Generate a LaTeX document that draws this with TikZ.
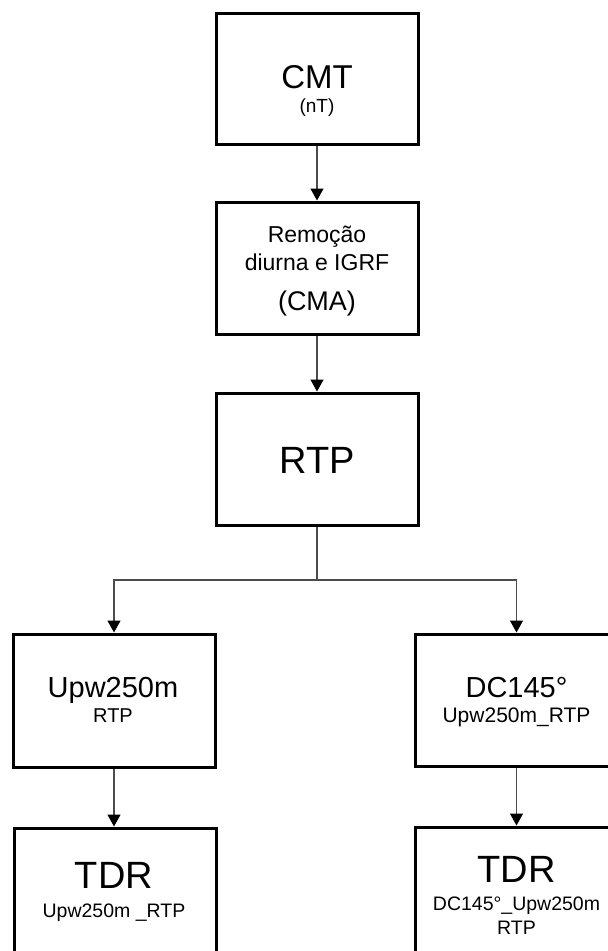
\documentclass[tikz,border=0pt]{standalone}
\usepackage{fontspec}
\setmainfont{Liberation Sans}
\usetikzlibrary{arrows.meta}
\newcommand\txtsize[1]{\fontsize{#1}{#1}\selectfont}
\tikzset{
  box/.style={draw=black, line width=3pt, minimum width=202pt, inner sep=0pt},
  lbl/.style={anchor=base, inner sep=0pt, text=black},
  conn/.style={draw=black!70, line width=1.3pt},
  arr/.style={conn, -{Triangle[length=12pt,width=13pt,fill=black,color=black]}},
}
\begin{document}
\begin{tikzpicture}[x=1pt,y=-1pt]
\useasboundingbox (0,0) rectangle (608,951);
\clip (0,0) rectangle (608,951);
\fill[white] (0,0) rectangle (608,951);

% boxes
\node[box, minimum height=131pt] (cmt)  at (317,78.5) {};
\node[box, minimum height=132pt] (rem)  at (317,268)  {};
\node[box, minimum height=132pt] (rtp)  at (317,459)  {};
\node[box, minimum height=133pt] (upw)  at (114,700.5) {};
\node[box, minimum height=132pt] (dc)   at (516.5,700) {};
\node[box, minimum height=132pt] (tdrl) at (115.5,894) {};
\node[box, minimum height=132pt] (tdrr) at (516.5,893) {};

% labels
\node[lbl] (cmtA) at (317,88)  {\txtsize{33}CMT};
\node[lbl] (cmtB) at (317,112) {\txtsize{19}(nT)};
\node[lbl] (remA) at (317,242) {\txtsize{23}Remoção};
\node[lbl] (remB) at (317,270) {\txtsize{23}diurna e IGRF};
\node[lbl] (remC) at (317,310) {\txtsize{27}(CMA)};
\node[lbl] (rtpA) at (317,473) {\txtsize{38}RTP};
\node[lbl] (upwA) at (113,697) {\txtsize{29}Upw250m};
\node[lbl] (upwB) at (113,722) {\txtsize{20}RTP};
\node[lbl] (dcA)  at (516.5,697) {\txtsize{29}DC145°};
\node[lbl] (dcB)  at (516.5,722) {\txtsize{21}Upw250m\_RTP};
\node[lbl] (tdrlA) at (114,888) {\txtsize{38}TDR};
\node[lbl] (tdrlB) at (114,917) {\txtsize{19.5}Upw250m \_RTP};
\node[lbl] (tdrrA) at (516.5,882) {\txtsize{38}TDR};
\node[lbl] (tdrrB) at (516.5,910) {\txtsize{19.5}DC145°\_Upw250m};
\node[lbl] (tdrrC) at (516.5,934) {\txtsize{19.5}RTP};

% connectors
\coordinate (fork) at (317,580);
\draw[arr] (cmt.south) -- (rem.north);
\draw[arr] (rem.south) -- (rtp.north);
\draw[conn] (rtp.south) -- (fork);
\draw[arr] (fork) -| (upw.north);
\draw[arr] (fork) -| (dc.north);
\draw[arr] (upw.south) -- (tdrl.north -| upw.south);
\draw[arr] (dc.south) -- (tdrr.north -| dc.south);
\end{tikzpicture}
\end{document}
